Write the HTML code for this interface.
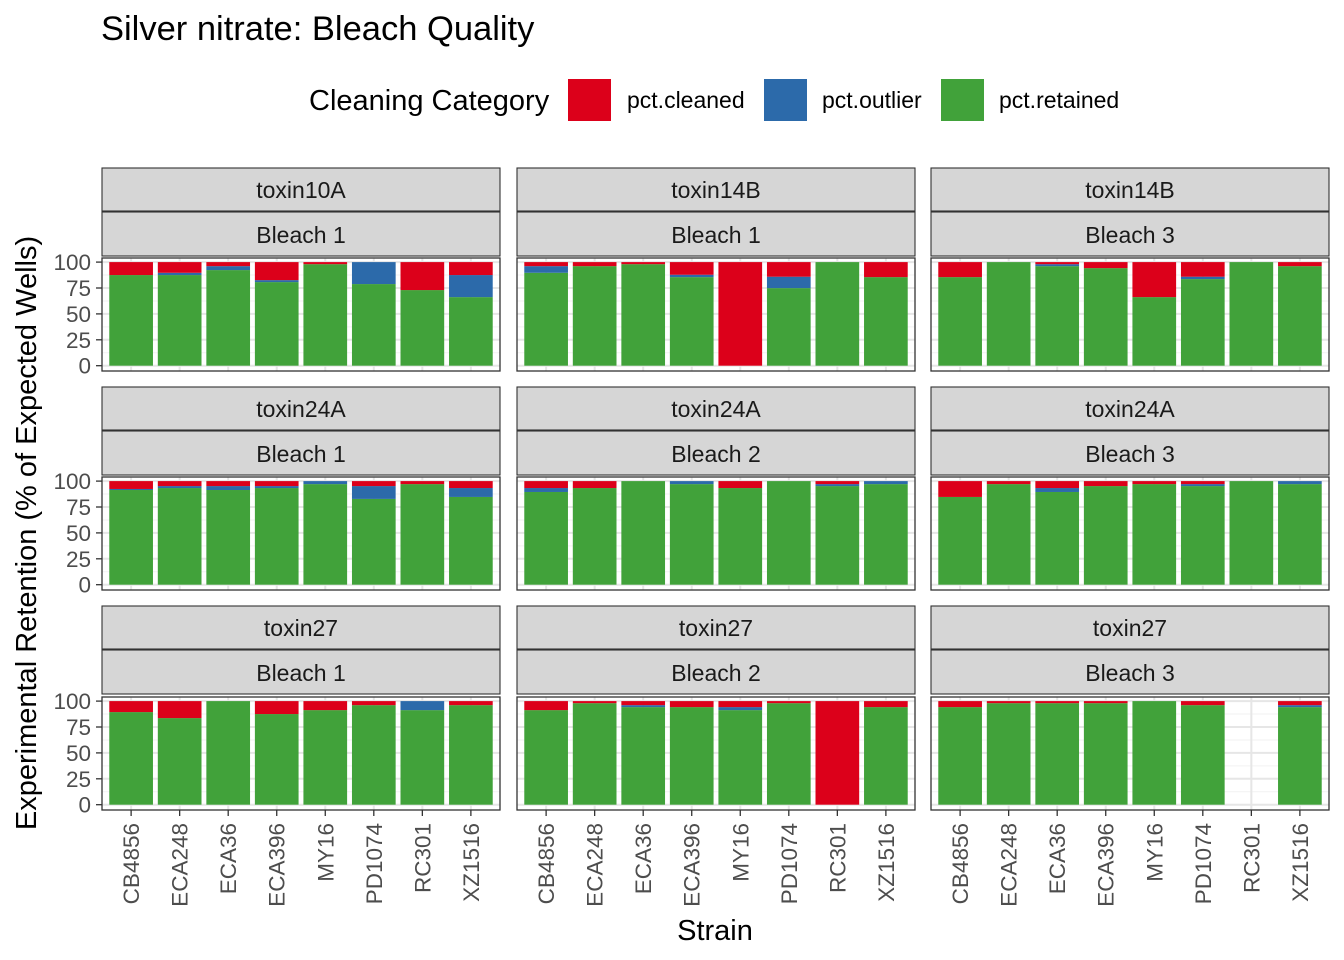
<!DOCTYPE html>
<html><head><meta charset="utf-8"><style>
html,body{margin:0;padding:0;background:#fff;}
svg{display:block;font-family:"Liberation Sans",Arial,sans-serif;}
</style></head><body>
<svg id="chart" width="1344" height="960" viewBox="0 0 1344 960" xmlns="http://www.w3.org/2000/svg">
<text x="101" y="40" font-size="34.5" fill="#000">Silver nitrate: Bleach Quality</text>
<g>
<text x="309" y="110" font-size="29" fill="#000">Cleaning Category</text>
<rect x="568" y="79" width="43" height="42" fill="#DC001A"/>
<text x="627" y="108" font-size="23" fill="#000">pct.cleaned</text>
<rect x="764" y="79" width="43" height="42" fill="#2C6AAA"/>
<text x="822" y="108" font-size="23" fill="#000">pct.outlier</text>
<rect x="941" y="79" width="43" height="42" fill="#41A23A"/>
<text x="999" y="108" font-size="23" fill="#000">pct.retained</text>
</g>
<text transform="translate(36,533) rotate(-90)" text-anchor="middle" font-size="29" fill="#000">Experimental Retention (% of Expected Wells)</text>
<text x="715" y="940" text-anchor="middle" font-size="29" fill="#000">Strain</text>
<g id="panels"></g>
</svg>
<script>
const strains = ["CB4856","ECA248","ECA36","ECA396","MY16","PD1074","RC301","XZ1516"];
const panelToxins = ["toxin10A","toxin14B","toxin14B","toxin24A","toxin24A","toxin24A","toxin27","toxin27","toxin27"];
const panelBleaches = ["Bleach 1","Bleach 1","Bleach 3","Bleach 1","Bleach 2","Bleach 3","Bleach 1","Bleach 2","Bleach 3"];
// pct.retained per panel
const retained = [
 [87.5,87.5,92.3,80.7,98,78.8,73,66.2],
 [89.7,96.1,98,85.5,0,74.9,100,85.5],
 [85.5,100,96.1,94.2,66.2,83.6,100,96.1],
 [91.4,93.3,91.4,93.3,97.1,82.8,97.1,84.7],
 [89.5,93.3,100,97.1,93.3,100,95.2,97.1],
 [84.7,97.1,89.5,95.2,97.1,95.2,100,97.1],
 [89.4,83.6,100,87.5,91.3,96.1,91.3,96.1],
 [91.3,98,94.2,94.2,91.3,98,0,94.2],
 [94.2,98,98,98,100,96.1,null,94.2]
];
// pct.outlier per panel
const outlier = [
 [0,2.2,3.8,1.9,0,21.2,0,21.3],
 [6.4,0,0,2.3,0,11,0,0],
 [0,0,1.9,0,0,2.3,0,0],
 [1,1.9,3.8,1.9,2.9,12.4,0,8.6],
 [3.8,0,0,2.9,0,0,1.9,2.9],
 [0,0,3.8,0,0,1.9,0,2.9],
 [0,0,0,0,0,0,8.7,0],
 [0,0,1.9,0,2.9,0,0,0],
 [0,0,0,0,0,0,null,1.9]
];
const yTicks = [0,25,50,75,100];

const NS="http://www.w3.org/2000/svg";
const root=document.getElementById('panels');
function mk(tag,attrs,parent){const e=document.createElementNS(NS,tag);for(const k in attrs)e.setAttribute(k,attrs[k]);(parent||root).appendChild(e);return e;}
const colL=[102,517,931], panelW=398;
const rowTop=[258,477,697], panelH=113;
const stripTop=[168,387,606];
const step=panelW/8.2;

for(let p=0;p<9;p++){
  const r=Math.floor(p/3), c=p%3;
  const L=colL[c], T=rowTop[r];
  const y0=T+panelH-5.3, y100=T+4.1;
  const yScale=v=>y0-(v/100)*(y0-y100);
  const xCenter=i=>L+(0.6+i)*step;
  const g=mk('g',{});
  
  
  const s1=mk('rect',{x:L,y:stripTop[r],width:panelW,height:43,fill:'#d6d6d6',stroke:'#333',"stroke-width":1.1},g);
  
  
  const t1=mk('text',{x:L+panelW/2,y:stripTop[r]+30,"text-anchor":"middle","font-size":23,fill:'#1a1a1a'},g);
  t1.textContent=panelToxins[p];
  
  
  const s2=mk('rect',{x:L,y:stripTop[r]+44,width:panelW,height:44,fill:'#d6d6d6',stroke:'#333',"stroke-width":1.1},g);
  
  
  const t2=mk('text',{x:L+panelW/2,y:stripTop[r]+75,"text-anchor":"middle","font-size":23,fill:'#1a1a1a'},g);
  t2.textContent=panelBleaches[p];
  
  
  for(let v=12.5;v<100;v+=25){mk('line',{x1:L,x2:L+panelW,y1:yScale(v),y2:yScale(v),stroke:'#f2f2f2',"stroke-width":1},g);}
  yTicks.forEach(v=>mk('line',{x1:L,x2:L+panelW,y1:yScale(v),y2:yScale(v),stroke:'#e6e6e6',"stroke-width":2},g));
  strains.forEach((s,i)=>mk('line',{x1:xCenter(i),x2:xCenter(i),y1:T,y2:T+panelH,stroke:'#e6e6e6',"stroke-width":2},g));
  const bw=step*0.9;
  strains.forEach((s,i)=>{
    const ret=retained[p][i], out=outlier[p][i];
    if(ret===null) return;
    const x=xCenter(i)-bw/2;
    const segs=[['retained',0,ret,'#41A23A'],['outlier',ret,ret+out,'#2C6AAA'],['cleaned',ret+out,100,'#DC001A']];
    segs.forEach(([nm,a,b,col])=>{
      if(b-a<=0.01) return;
      const rc=mk('rect',{x:x,y:yScale(b),width:bw,height:yScale(a)-yScale(b),fill:col},g);
      
      
    });
  });
  mk('rect',{x:L,y:T,width:panelW,height:panelH,fill:'none',stroke:'#333',"stroke-width":1.3},g);
  if(c===0){
    yTicks.forEach(v=>{
      mk('line',{x1:L-6,x2:L,y1:yScale(v),y2:yScale(v),stroke:'#333',"stroke-width":1.3},g);
      const tt=mk('text',{x:L-11,y:yScale(v)+8,"text-anchor":"end","font-size":22.5,fill:'#4d4d4d'},g);
      tt.textContent=v;
      
      
    });
  }
  if(r===2){
    strains.forEach((s,i)=>{
      mk('line',{x1:xCenter(i),x2:xCenter(i),y1:T+panelH,y2:T+panelH+6,stroke:'#333',"stroke-width":1.3},g);
      const tt=mk('text',{transform:`translate(${xCenter(i)+8},${T+panelH+13}) rotate(-90)`,"text-anchor":"end","font-size":22.5,fill:'#4d4d4d'},g);
      tt.textContent=s;
      
      
    });
  }
}
</script>
</body></html>
